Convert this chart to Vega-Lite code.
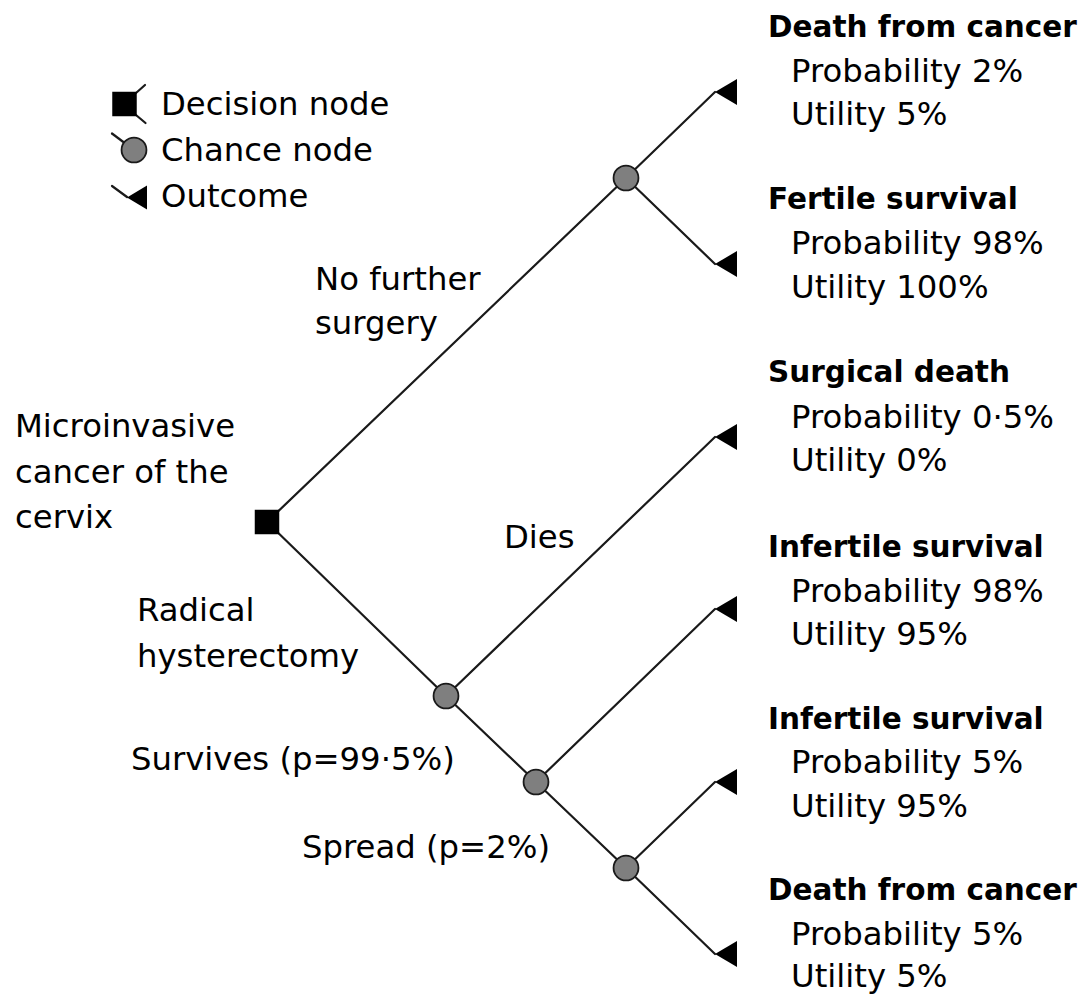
{
  "$schema": "https://vega.github.io/schema/vega-lite/v6.json",
  "width": 1086,
  "height": 997,
  "autosize": {"type": "fit", "contains": "padding"},
  "padding": 0,
  "background": "white",
  "config": {"view": {"stroke": null}},
  "datasets": {
    "edges": [
      {"x": 267, "y": 522, "x2": 626, "y2": 178, "group": "tree"},
      {"x": 267, "y": 522, "x2": 446, "y2": 696, "group": "tree"},
      {"x": 626, "y": 178, "x2": 715, "y2": 92, "group": "tree"},
      {"x": 626, "y": 178, "x2": 715, "y2": 264, "group": "tree"},
      {"x": 446, "y": 696, "x2": 715, "y2": 437, "group": "tree"},
      {"x": 446, "y": 696, "x2": 536, "y2": 782, "group": "tree"},
      {"x": 536, "y": 782, "x2": 715, "y2": 609, "group": "tree"},
      {"x": 536, "y": 782, "x2": 626, "y2": 868, "group": "tree"},
      {"x": 626, "y": 868, "x2": 715, "y2": 782, "group": "tree"},
      {"x": 626, "y": 868, "x2": 715, "y2": 954, "group": "tree"},
      {"x": 136, "y": 93, "x2": 145, "y2": 85, "group": "legend"},
      {"x": 136, "y": 115, "x2": 145.5, "y2": 123, "group": "legend"},
      {"x": 112, "y": 133.5, "x2": 134, "y2": 150, "group": "legend"},
      {"x": 112, "y": 186, "x2": 127, "y2": 197, "group": "legend"}
    ],
    "nodes": [
      {"x": 267, "y": 522, "kind": "decision", "group": "tree"},
      {"x": 124.5, "y": 104, "kind": "decision", "group": "legend"},
      {"x": 626, "y": 178, "kind": "chance", "group": "tree"},
      {"x": 446, "y": 696, "kind": "chance", "group": "tree"},
      {"x": 536, "y": 782, "kind": "chance", "group": "tree"},
      {"x": 626, "y": 868, "kind": "chance", "group": "tree"},
      {"x": 134, "y": 150, "kind": "chance", "group": "legend"},
      {"x": 715, "y": 92, "kind": "outcome", "group": "tree"},
      {"x": 715, "y": 264, "kind": "outcome", "group": "tree"},
      {"x": 715, "y": 437, "kind": "outcome", "group": "tree"},
      {"x": 715, "y": 609, "kind": "outcome", "group": "tree"},
      {"x": 715, "y": 782, "kind": "outcome", "group": "tree"},
      {"x": 715, "y": 954, "kind": "outcome", "group": "tree"},
      {"x": 127, "y": 197.5, "kind": "outcome", "group": "legend"}
    ],
    "labels": [
      {"x": 161, "y": 115, "text": "Decision node", "role": "label"},
      {"x": 161, "y": 161, "text": "Chance node", "role": "label"},
      {"x": 161, "y": 207, "text": "Outcome", "role": "label"},
      {"x": 15, "y": 437, "text": "Microinvasive", "role": "label"},
      {"x": 15, "y": 483, "text": "cancer of the", "role": "label"},
      {"x": 15, "y": 528, "text": "cervix", "role": "label"},
      {"x": 315, "y": 290, "text": "No further", "role": "label"},
      {"x": 315, "y": 334, "text": "surgery", "role": "label"},
      {"x": 504, "y": 548, "text": "Dies", "role": "label"},
      {"x": 137, "y": 621, "text": "Radical", "role": "label"},
      {"x": 137, "y": 667, "text": "hysterectomy", "role": "label"},
      {"x": 131, "y": 770, "text": "Survives (p=99·5%)", "role": "label"},
      {"x": 302, "y": 858, "text": "Spread (p=2%)", "role": "label"},
      {"x": 768, "y": 37, "text": "Death from cancer", "role": "heading"},
      {"x": 791, "y": 82, "text": "Probability 2%", "role": "detail"},
      {"x": 791, "y": 125, "text": "Utility 5%", "role": "detail"},
      {"x": 768, "y": 208.5, "text": "Fertile survival", "role": "heading"},
      {"x": 791, "y": 254, "text": "Probability 98%", "role": "detail"},
      {"x": 791, "y": 298, "text": "Utility 100%", "role": "detail"},
      {"x": 768, "y": 382, "text": "Surgical death", "role": "heading"},
      {"x": 791, "y": 428, "text": "Probability 0·5%", "role": "detail"},
      {"x": 791, "y": 471, "text": "Utility 0%", "role": "detail"},
      {"x": 768, "y": 556.5, "text": "Infertile survival", "role": "heading"},
      {"x": 791, "y": 602, "text": "Probability 98%", "role": "detail"},
      {"x": 791, "y": 645, "text": "Utility 95%", "role": "detail"},
      {"x": 768, "y": 728.5, "text": "Infertile survival", "role": "heading"},
      {"x": 791, "y": 773, "text": "Probability 5%", "role": "detail"},
      {"x": 791, "y": 817, "text": "Utility 95%", "role": "detail"},
      {"x": 768, "y": 900, "text": "Death from cancer", "role": "heading"},
      {"x": 791, "y": 945, "text": "Probability 5%", "role": "detail"},
      {"x": 791, "y": 987, "text": "Utility 5%", "role": "detail"}
    ]
  },
  "encoding": {
    "x": {"field": "x", "type": "quantitative", "scale": {"domain": [0, 1086], "nice": false, "zero": false}, "axis": null},
    "y": {"field": "y", "type": "quantitative", "scale": {"domain": [0, 997], "nice": false, "zero": false, "reverse": true}, "axis": null}
  },
  "layer": [
    {
      "data": {"name": "edges"},
      "mark": {"type": "rule", "color": "#1a1a1a", "strokeWidth": 2.2, "strokeCap": "round"},
      "encoding": {
        "x2": {"field": "x2"},
        "y2": {"field": "y2"}
      }
    },
    {
      "data": {"name": "nodes"},
      "transform": [{"filter": "datum.kind === 'decision'"}],
      "mark": {"type": "point", "shape": "square", "filled": true, "size": 600, "color": "#000000", "opacity": 1}
    },
    {
      "data": {"name": "nodes"},
      "transform": [{"filter": "datum.kind === 'chance'"}],
      "mark": {"type": "point", "shape": "circle", "filled": true, "size": 620, "fill": "#7f7f7f", "stroke": "#1a1a1a", "strokeWidth": 1.8, "opacity": 1, "fillOpacity": 1, "strokeOpacity": 1}
    },
    {
      "data": {"name": "nodes"},
      "transform": [{"filter": "datum.kind === 'outcome' && datum.group === 'tree'"}],
      "mark": {"type": "point", "shape": "M0,0L2,-1.18L2,1.18Z", "filled": true, "size": 484, "color": "#000000", "opacity": 1}
    },
    {
      "data": {"name": "nodes"},
      "transform": [{"filter": "datum.kind === 'outcome' && datum.group === 'legend'"}],
      "mark": {"type": "point", "shape": "M0,0L2,-1.2L2,1.2Z", "filled": true, "size": 400, "color": "#000000", "opacity": 1}
    },
    {
      "data": {"name": "labels"},
      "transform": [{"filter": "datum.role !== 'heading'"}],
      "mark": {"type": "text", "align": "left", "baseline": "alphabetic", "font": "DejaVu Sans", "fontSize": 32.3, "color": "#000000"},
      "encoding": {"text": {"field": "text"}}
    },
    {
      "data": {"name": "labels"},
      "transform": [{"filter": "datum.role === 'heading'"}],
      "mark": {"type": "text", "align": "left", "baseline": "alphabetic", "font": "DejaVu Sans", "fontWeight": "bold", "fontSize": 29.5, "color": "#000000"},
      "encoding": {"text": {"field": "text"}}
    }
  ]
}
